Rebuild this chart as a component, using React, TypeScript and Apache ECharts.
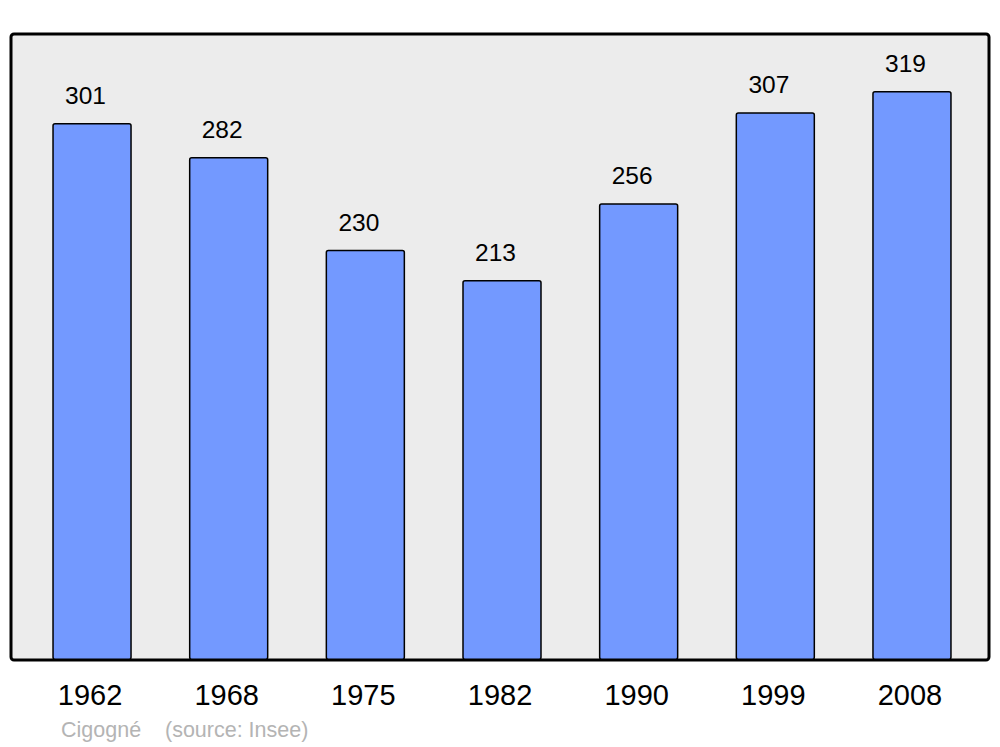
import React, { useEffect, useRef } from "react";
import * as echarts from "echarts";

const years = ["1962", "1968", "1975", "1982", "1990", "1999", "2008"];
const population = [301, 282, 230, 213, 256, 307, 319];
const footer = "Cigogné    (source: Insee)";

export default function App() {
  const ref = useRef<HTMLDivElement>(null);
  useEffect(() => {
    document.body.style.margin = "0";
    const chart = echarts.init(ref.current!, null, { renderer: "svg" });
    chart.setOption({
      animation: false,
      backgroundColor: "#ffffff",
      textStyle: { fontFamily: "Liberation Sans, Arial, sans-serif" },
      grid: { left: 23.7, right: 19.7, top: 34, bottom: 87, containLabel: false },
      graphic: [
        {
          type: "rect",
          z: -10,
          shape: { x: 11, y: 34, width: 978, height: 626, r: 3 },
          style: { fill: "#ececec", stroke: "#000000", lineWidth: 3 },
        },
        {
          type: "text",
          left: 61,
          top: 719,
          style: {
            text: footer,
            fill: "#b4b4b4",
            font: "21.5px 'Liberation Sans', Arial, sans-serif",
          },
        },
      ],
      xAxis: {
        type: "category",
        data: years,
        axisLine: { show: false },
        axisTick: { show: false },
        axisLabel: {
          color: "#000000",
          fontSize: 29,
          margin: 20,
          padding: [0, 4, 0, 0],
          fontFamily: "Liberation Sans, Arial, sans-serif",
        },
      },
      yAxis: {
        type: "value",
        min: 0,
        max: 350.9,
        show: false,
        splitLine: { show: false },
      },
      series: [
        {
          type: "bar",
          data: population,
          barWidth: 79.5,
          itemStyle: {
            color: "#7399ff",
            borderColor: "#000000",
            borderWidth: 1.5,
            borderRadius: 2,
          },
          label: {
            show: true,
            position: "top",
            distance: 15,
            offset: [-6.5, 0],
            color: "#000000",
            fontSize: 24.5,
            fontFamily: "Liberation Sans, Arial, sans-serif",
          },
        },
      ],
    });
    return () => chart.dispose();
  }, []);
  return <div ref={ref} style={{ width: 1000, height: 747 }} />;
}
